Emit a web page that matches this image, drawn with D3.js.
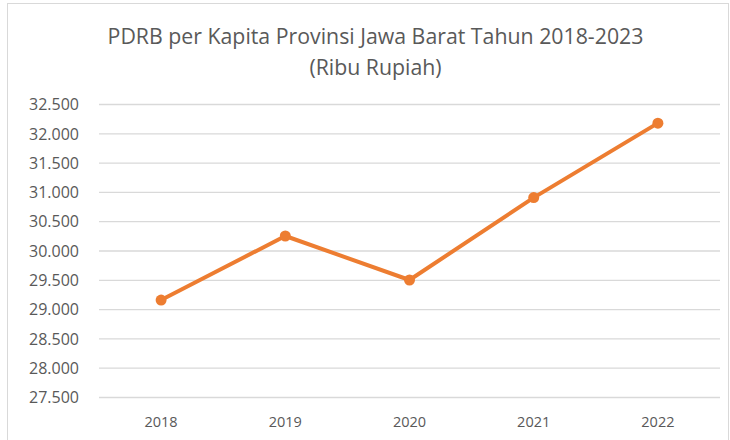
<!DOCTYPE html>
<html>
<head>
<meta charset="utf-8">
<script src="https://cdn.jsdelivr.net/npm/d3@7/dist/d3.min.js"></script>
<style>
  body { margin: 0; background: #fff; }
  svg { display: block; }
</style>
</head>
<body>
<svg width="730" height="440"></svg>
<script>
var years = ["2018", "2019", "2020", "2021", "2022"];
var pdrb = [29163, 30256, 29505, 30911, 32182];
var yTicks = [27500, 28000, 28500, 29000, 29500, 30000, 30500, 31000, 31500, 32000, 32500];
var titleLines = ["PDRB per Kapita Provinsi Jawa Barat Tahun 2018-2023", "(Ribu Rupiah)"];

var svg = d3.select("svg");
var font = "'Open Sans', 'Noto Sans', sans-serif";

// chart border
svg.append("rect")
   .attr("x", 7.5).attr("y", 3.5)
   .attr("width", 721).attr("height", 440)
   .attr("fill", "#fff")
   .attr("stroke", "#d9d9d9");

var x = d3.scaleBand().domain(years).range([99, 720]);
var y = d3.scaleLinear().domain([27500, 32500]).range([397.5, 104.5]);

// gridlines
svg.append("g").selectAll("line")
   .data(yTicks)
   .join("line")
   .attr("x1", 99).attr("x2", 720)
   .attr("y1", d => y(d)).attr("y2", d => y(d))
   .attr("stroke", "#d9d9d9")
   .attr("stroke-width", 1.3);

// y labels
svg.append("g").selectAll("text")
   .data(yTicks)
   .join("text")
   .attr("x", 79)
   .attr("y", d => y(d))
   .attr("dy", "0.36em")
   .attr("text-anchor", "end")
   .attr("font-family", font)
   .attr("font-size", "16px")
   .attr("fill", "#595959")
   .text(d => d3.format(".3f")(d / 1000));

// x labels
svg.append("g").selectAll("text")
   .data(years)
   .join("text")
   .attr("x", d => x(d) + x.bandwidth() / 2)
   .attr("y", 426.5)
   .attr("text-anchor", "middle")
   .attr("font-family", font)
   .attr("font-size", "14.5px")
   .attr("fill", "#595959")
   .text(d => d);

// title
svg.append("g").selectAll("text")
   .data(titleLines)
   .join("text")
   .attr("x", 375.5)
   .attr("y", (d, i) => 43.5 + i * 31)
   .attr("text-anchor", "middle")
   .attr("font-family", font)
   .attr("font-size", "21.3px")
   .attr("fill", "#595959")
   .text(d => d);

var pts = years.map((yr, i) => [x(yr) + x.bandwidth() / 2, y(pdrb[i])]);

svg.append("path")
   .datum(pts)
   .attr("d", d3.line())
   .attr("fill", "none")
   .attr("stroke", "#ED7D31")
   .attr("stroke-width", 4)
   .attr("stroke-linejoin", "round")
   .attr("stroke-linecap", "round");

svg.append("g").selectAll("circle")
   .data(pts)
   .join("circle")
   .attr("cx", d => d[0])
   .attr("cy", d => d[1])
   .attr("r", 5.5)
   .attr("fill", "#ED7D31");
</script>
</body>
</html>
